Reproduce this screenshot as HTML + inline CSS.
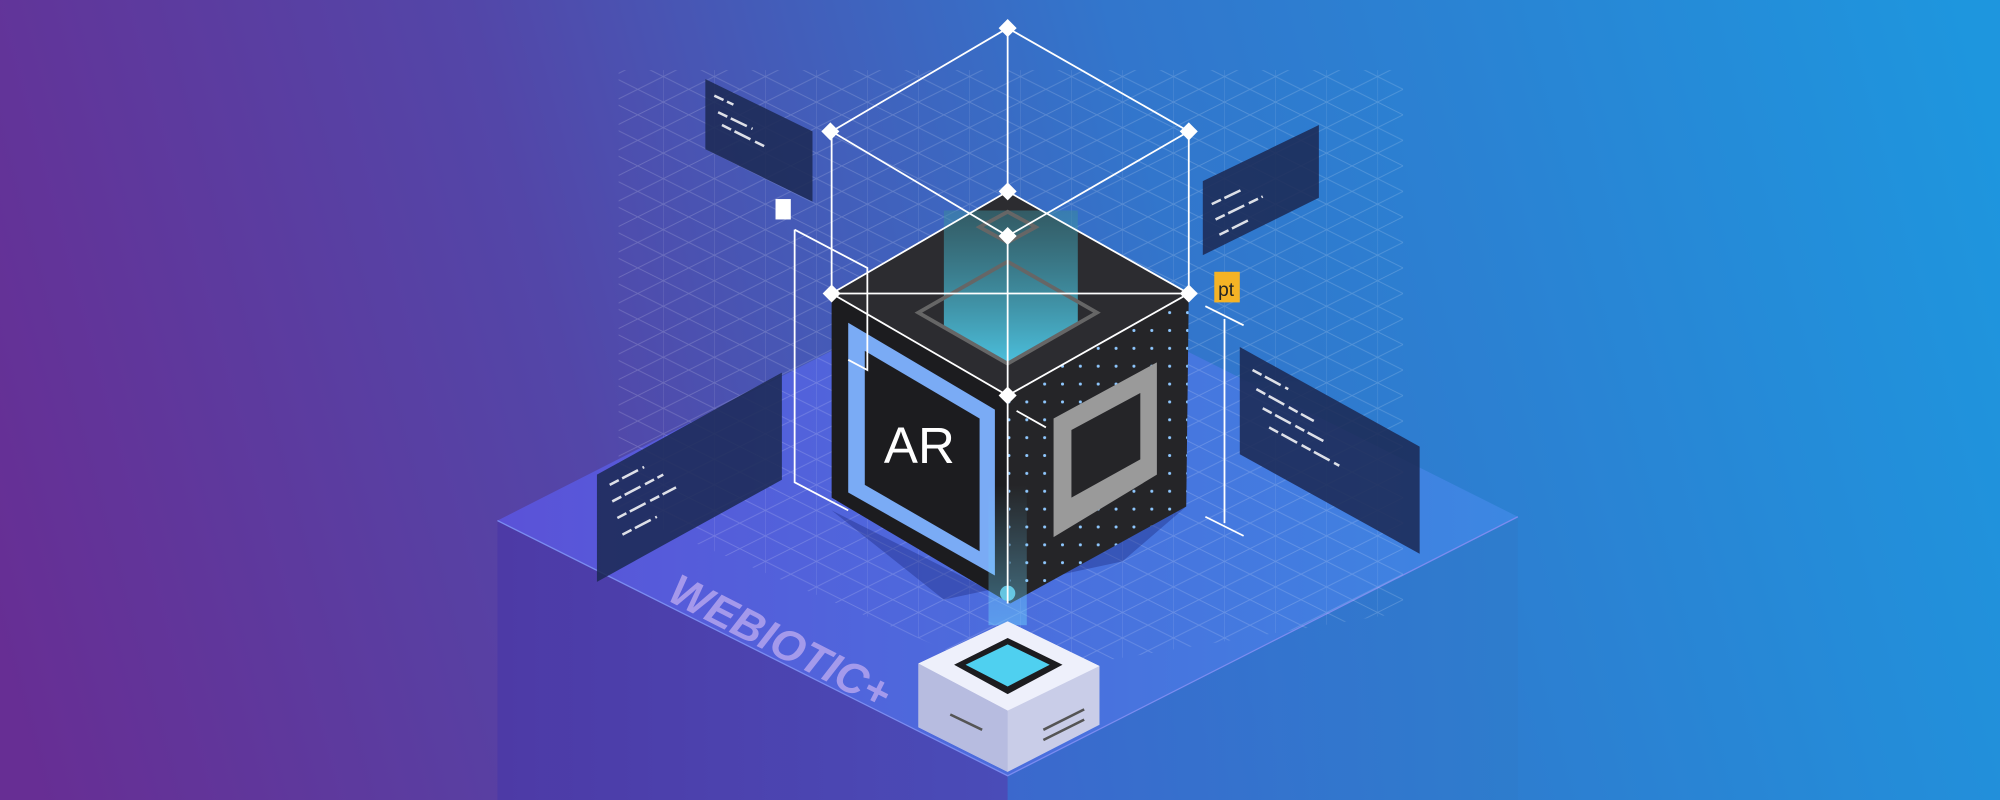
<!DOCTYPE html>
<html><head><meta charset="utf-8"><style>
html,body{margin:0;padding:0;width:2000px;height:800px;overflow:hidden}
svg{display:block}
</style></head><body>
<svg width="2000" height="800" viewBox="0 0 1568 627" preserveAspectRatio="none" xmlns="http://www.w3.org/2000/svg">
<defs>
<linearGradient id="bg" gradientUnits="userSpaceOnUse" x1="0" y1="520" x2="1568" y2="100">
<stop offset="0" stop-color="#672e94"/>
<stop offset="0.3" stop-color="#5346a8"/>
<stop offset="0.6" stop-color="#3276cc"/>
<stop offset="1" stop-color="#1e96de"/>
</linearGradient>
<linearGradient id="top" x1="0" y1="0" x2="1" y2="0">
<stop offset="0" stop-color="#5b52d8"/>
<stop offset="1" stop-color="#3c88e2"/>
</linearGradient>
<linearGradient id="lf" x1="0" y1="0" x2="1" y2="0">
<stop offset="0" stop-color="#4d3aa6"/>
<stop offset="1" stop-color="#4a4cb8"/>
</linearGradient>
<linearGradient id="rf" x1="0" y1="0" x2="1" y2="0">
<stop offset="0" stop-color="#3a6ad0"/>
<stop offset="1" stop-color="#2e7ccc"/>
</linearGradient>
<linearGradient id="cy" x1="0" y1="0" x2="0" y2="1">
<stop offset="0" stop-color="#3a8a9a" stop-opacity="0.5"/>
<stop offset="1" stop-color="#4fd0f0" stop-opacity="0.9"/>
</linearGradient>
<linearGradient id="beam" x1="0" y1="0" x2="0" y2="1">
<stop offset="0" stop-color="#6fd6ff" stop-opacity="0"/>
<stop offset="1" stop-color="#6fd6ff" stop-opacity="0.45"/>
</linearGradient>
<pattern id="grid" width="40" height="40" patternUnits="userSpaceOnUse">
<path d="M0 0 L40 20 M0 20 L40 40 M0 20 L40 0 M0 40 L40 20 M0 0V40" stroke="#ffffff" stroke-opacity="0.18" stroke-width="0.7" fill="none"/>
</pattern>
<pattern id="dots" width="14" height="14" patternUnits="userSpaceOnUse">
<circle cx="7" cy="7" r="1.2" fill="#8fc8ff"/>
</pattern>
</defs>
<rect width="1568" height="627" fill="url(#bg)"/>
<!-- platform -->
<polygon points="390,408 790,205 1190,405 790,608" fill="url(#top)"/>
<polygon points="390,408 790,608 790,627 390,627" fill="url(#lf)"/>
<polygon points="790,608 1190,405 1190,627 790,627" fill="url(#rf)" opacity="0.85"/>
<polyline points="390,408 790,608 1190,405" fill="none" stroke="#7b8cf0" stroke-width="1"/>
<!-- grid areas -->
<polygon points="485,55 1100,55 1100,480 790,530 485,400" fill="url(#grid)"/>
<!-- shadow -->
<polygon points="652,400 790,470 930,397 880,440 740,470" fill="#1e2a80" opacity="0.4"/>
<!-- cube -->
<polygon points="652,230 790,150 932,230 790,310" fill="#2c2c30"/>
<polygon points="652,230 790,310 792,473 652,390" fill="#1c1c1f"/>
<polygon points="790,310 932,230 930,397 792,473" fill="#252528"/>
<polygon points="790,310 932,230 930,397 792,473" fill="url(#dots)"/>
<polygon points="740,165 845,165 845,255 790,285 740,255" fill="url(#cy)"/>
<polygon points="720,245 790,205 860,245 790,285" fill="none" stroke="#666" stroke-width="3"/>
<polygon points="768,178 790,166 812,178 790,190" fill="none" stroke="#666" stroke-width="3"/>
<polygon points="665,253 780,321 780,451 665,386" fill="#7aabf5"/>
<polygon points="678,275 768,328 768,432 678,380" fill="#1c1c1f"/>
<text x="693" y="363" fill="#fff" font-family="Liberation Sans, sans-serif" font-size="40">AR</text>
<polygon points="826,328 907,284 907,372 826,421" fill="#9a9a9a"/>
<polygon points="840,337 894,308 894,360 840,390" fill="#252528"/>
<rect x="775" y="380" width="30" height="110" fill="url(#beam)"/>
<circle cx="790" cy="465" r="6" fill="#6fe0ff" opacity="0.8"/>
<!-- wireframe -->
<g stroke="#fff" stroke-width="1.4" fill="none">
<polygon points="652,103 790,22 932,103 790,185"/>
<line x1="652" y1="103" x2="652" y2="230"/><line x1="932" y1="103" x2="932" y2="230"/>
<line x1="790" y1="22" x2="790" y2="150"/><line x1="790" y1="185" x2="790" y2="473"/>
<polyline points="652,230 790,150 932,230 790,310 652,230"/>
<line x1="652" y1="230" x2="932" y2="230"/>
<polyline points="623,180 623,378 665,400"/>
<polyline points="623,180 680,210 680,290 665,282"/>
<line x1="960" y1="250" x2="960" y2="410"/>
<line x1="945" y1="240" x2="975" y2="255"/><line x1="945" y1="405" x2="975" y2="420"/>
<line x1="797" y1="322" x2="820" y2="335"/>
</g>
<g fill="#fff">
<rect x="646" y="98" width="10" height="10" transform="rotate(45 651 103)"/>
<rect x="785" y="17" width="10" height="10" transform="rotate(45 790 22)"/>
<rect x="927" y="98" width="10" height="10" transform="rotate(45 932 103)"/>
<rect x="785" y="180" width="10" height="10" transform="rotate(45 790 185)"/>
<rect x="785" y="145" width="10" height="10" transform="rotate(45 790 150)"/>
<rect x="647" y="225" width="10" height="10" transform="rotate(45 652 230)"/>
<rect x="927" y="225" width="10" height="10" transform="rotate(45 932 230)"/>
<rect x="785" y="305" width="10" height="10" transform="rotate(45 790 310)"/>
<rect x="608" y="156" width="12" height="16"/>
</g>
<rect x="952" y="213" width="20" height="24" fill="#f5b325"/>
<text x="955" y="232" font-family="Liberation Sans, sans-serif" font-size="15" fill="#222">pt</text>
<!-- panels -->
<g fill="#1c2a55" opacity="0.88">
<polygon points="553,62 637,103 637,158 553,117"/>
<polygon points="943,142 1034,98 1034,155 943,200"/>
<polygon points="972,272 1113,350 1113,434 972,356"/>
<polygon points="468,372 613,292 613,376 468,456"/>
</g>
<g stroke="#fff" stroke-width="2" opacity="0.85" stroke-dasharray="8 3 14 4">
<line x1="560" y1="75" x2="575" y2="82"/><line x1="563" y1="88" x2="590" y2="101"/><line x1="566" y1="98" x2="600" y2="115"/>
<line x1="950" y1="160" x2="975" y2="148"/><line x1="953" y1="172" x2="990" y2="154"/><line x1="956" y1="184" x2="980" y2="172"/>
<line x1="982" y1="290" x2="1010" y2="305"/><line x1="985" y1="305" x2="1030" y2="330"/><line x1="990" y1="320" x2="1040" y2="347"/><line x1="995" y1="335" x2="1050" y2="365"/>
<line x1="478" y1="380" x2="505" y2="366"/><line x1="480" y1="393" x2="520" y2="372"/><line x1="484" y1="406" x2="530" y2="382"/><line x1="488" y1="419" x2="515" y2="405"/>
</g>
<!-- logo -->
<text x="0" y="0" font-family="Liberation Sans, sans-serif" font-weight="bold" font-style="italic" font-size="34" fill="#b9a8f0" opacity="0.8" transform="translate(522,470) rotate(27)">WEBIOTIC+</text>
<!-- device -->
<polygon points="720,520 790,487 862,522 862,568 790,605 720,570" fill="#c9cde8"/>
<polygon points="720,520 790,487 862,522 790,557" fill="#eef0fb"/>
<polygon points="720,520 790,557 790,605 720,570" fill="#b7bce0"/>
<polygon points="748,521 790,500 833,521 790,544" fill="#1c1c1f"/>
<polygon points="757,521 790,505 823,521 790,538" fill="#4fd0f0"/>
<g stroke="#555" stroke-width="2"><line x1="818" y1="572" x2="850" y2="556"/><line x1="818" y1="580" x2="850" y2="564"/><line x1="745" y1="560" x2="770" y2="572"/></g>
</svg>
</body></html>
